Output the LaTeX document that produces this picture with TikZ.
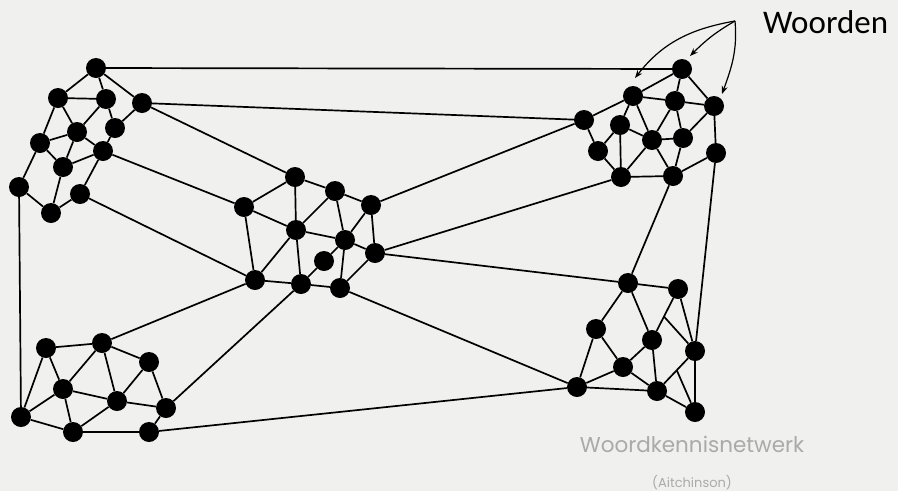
\documentclass[tikz,border=0pt]{standalone}
\usepackage{fontspec}
\setmainfont{Carlito}
\newfontfamily\capfont{Poppins}
\usetikzlibrary{calc,arrows.meta}
\definecolor{bg}{RGB}{240,240,239}
\definecolor{capgray}{RGB}{170,170,170}
\begin{document}
\begin{tikzpicture}[x=1pt,y=-1pt,
  dot/.style={circle,fill=black,inner sep=0pt,minimum size=20pt},
  edge/.style={line width=1.7pt,black},
  arr/.style={line width=1.2pt,-{Stealth[length=8pt,width=6pt]}}]
\fill[bg] (0,0) rectangle (898,491);
\useasboundingbox (0,0) rectangle (898,491);
% cluster A
\node[dot] (a1) at (96,68) {};
\node[dot] (a2) at (58,98) {};
\node[dot] (a3) at (106,99) {};
\node[dot] (a4) at (142,103) {};
\node[dot] (a5) at (115,128) {};
\node[dot] (a6) at (77,132) {};
\node[dot] (a7) at (40,143) {};
\node[dot] (a8) at (103,151) {};
\node[dot] (a9) at (63,167) {};
\node[dot] (a10) at (19,187) {};
\node[dot] (a11) at (80,194) {};
\node[dot] (a12) at (51,213) {};
% cluster B
\node[dot] (b1) at (295,177) {};
\node[dot] (b2) at (244,207) {};
\node[dot] (b3) at (335,191) {};
\node[dot] (b4) at (371,205) {};
\node[dot] (b5) at (296,230) {};
\node[dot] (b6) at (345,240) {};
\node[dot] (b7) at (375,253) {};
\node[dot] (b8) at (324,261) {};
\node[dot] (b9) at (255,280) {};
\node[dot] (b10) at (301,284) {};
\node[dot] (b11) at (340,288) {};
% cluster C
\node[dot] (c1) at (584,120) {};
\node[dot] (c2) at (633,96) {};
\node[dot] (c3) at (682,69) {};
\node[dot] (c4) at (675,101) {};
\node[dot] (c5) at (714,106) {};
\node[dot] (c6) at (620,125) {};
\node[dot] (c7) at (652,140) {};
\node[dot] (c8) at (683,138) {};
\node[dot] (c9) at (598,151) {};
\node[dot] (c10) at (716,153) {};
\node[dot] (c11) at (621,177) {};
\node[dot] (c12) at (673,176) {};
% cluster D
\node[dot] (d1) at (628,283) {};
\node[dot] (d2) at (678,289) {};
\node[dot] (d3) at (596,329) {};
\node[dot] (d4) at (652,340) {};
\node[dot] (d5) at (695,351) {};
\node[dot] (d6) at (623,367) {};
\node[dot] (d7) at (577,387) {};
\node[dot] (d8) at (657,391) {};
\node[dot] (d9) at (695,412) {};
% cluster E
\node[dot] (e1) at (46,348) {};
\node[dot] (e2) at (102,343) {};
\node[dot] (e3) at (149,362) {};
\node[dot] (e4) at (63,389) {};
\node[dot] (e5) at (117,401) {};
\node[dot] (e6) at (21,417) {};
\node[dot] (e7) at (166,408) {};
\node[dot] (e8) at (73,432) {};
\node[dot] (e9) at (149,432) {};
\coordinate (dm1) at ($(d2)!0.54!(d4)$);
\coordinate (dm2) at ($(d5)!0.48!(d8)$);
% edges A
\draw[edge] (a1)--(a2) (a1)--(a3) (a1)--(a4) (a2)--(a3) (a2)--(a7) (a2)--(a6)
  (a3)--(a6) (a3)--(a5) (a4)--(a5) (a5)--(a8) (a6)--(a7) (a6)--(a8) (a6)--(a9)
  (a7)--(a9) (a7)--(a10) (a8)--(a9) (a8)--(a11) (a9)--(a12) (a10)--(a12) (a11)--(a12);
% edges B
\draw[edge] (b1)--(b2) (b1)--(b3) (b1)--(b5) (b2)--(b5) (b2)--(b9) (b3)--(b4)
  (b3)--(b5) (b3)--(b6) (b4)--(b6) (b4)--(b7) (b5)--(b6) (b5)--(b9) (b5)--(b10)
  (b6)--(b7) (b6)--(b8) (b6)--(b11) (b7)--(b11) (b8)--(b10) (b9)--(b10) (b10)--(b11);
% edges C
\draw[edge] (c3)--(c2) (c3)--(c4) (c3)--(c5) (c2)--(c1) (c2)--(c4) (c2)--(c6)
  (c2)--(c7) (c4)--(c5) (c4)--(c7) (c4)--(c8) (c5)--(c8) (c5)--(c10) (c1)--(c9)
  (c6)--(c9) (c6)--(c11) (c6)--(c7) (c7)--(c8) (c7)--(c11) (c7)--(c12) (c8)--(c12)
  (c9)--(c11) (c11)--(c12) (c10)--(c12);
% edges D
\draw[edge] (d1)--(d2) (d1)--(d3) (d1)--(d4) (d2)--(d4) (d2)--(d5) (d3)--(d6)
  (d3)--(d7) (d4)--(d6) (d4)--(d8) (dm1)--(d5) (d5)--(d8) (d5)--(d9) (dm2)--(d9)
  (d8)--(d9) (d6)--(d7) (d6)--(d8) (d7)--(d8);
% edges E
\draw[edge] (e1)--(e2) (e1)--(e4) (e1)--(e6) (e2)--(e3) (e2)--(e4) (e2)--(e5)
  (e3)--(e5) (e3)--(e7) (e4)--(e5) (e4)--(e6) (e4)--(e8) (e5)--(e7) (e5)--(e8)
  (e6)--(e8) (e7)--(e9) (e8)--(e9);
% long links
\draw[edge] (a1)--(c3) (a4)--(c1) (a4)--(b1) (a8)--(b2) (a11)--(b9) (a10)--(e6)
  (b4)--(c1) (b7)--(c11) (b7)--(d1) (b11)--(d7) (b9)--(e2) (b10)--(e7)
  (c12)--(d1) (c10)--(d5) (d7)--(e9);
% labels
\coordinate (wo) at (735,21);
\coordinate (t1) at (635,78);
\coordinate (t2) at (690,56);
\coordinate (t3) at (722,94);
\node[anchor=base west,font=\fontsize{33}{33}\selectfont,inner sep=0pt] (woorden) at (763,33) {Woorden};
\draw[arr] (wo) to[out=190,in=52] (t1);
\draw[arr] (wo) to[out=210,in=45] (t2);
\draw[arr] (wo) to[out=275,in=70] (t3);
\node[anchor=base,font=\capfont\fontsize{21.5}{21.5}\selectfont,text=capgray,inner sep=0pt] (title) at (692,452) {Woordkennisnetwerk};
\node[anchor=base,font=\capfont\fontsize{13}{13}\selectfont,text=capgray,inner sep=0pt] (src) at (692,487) {(Aitchinson)};
\end{tikzpicture}
\end{document}
